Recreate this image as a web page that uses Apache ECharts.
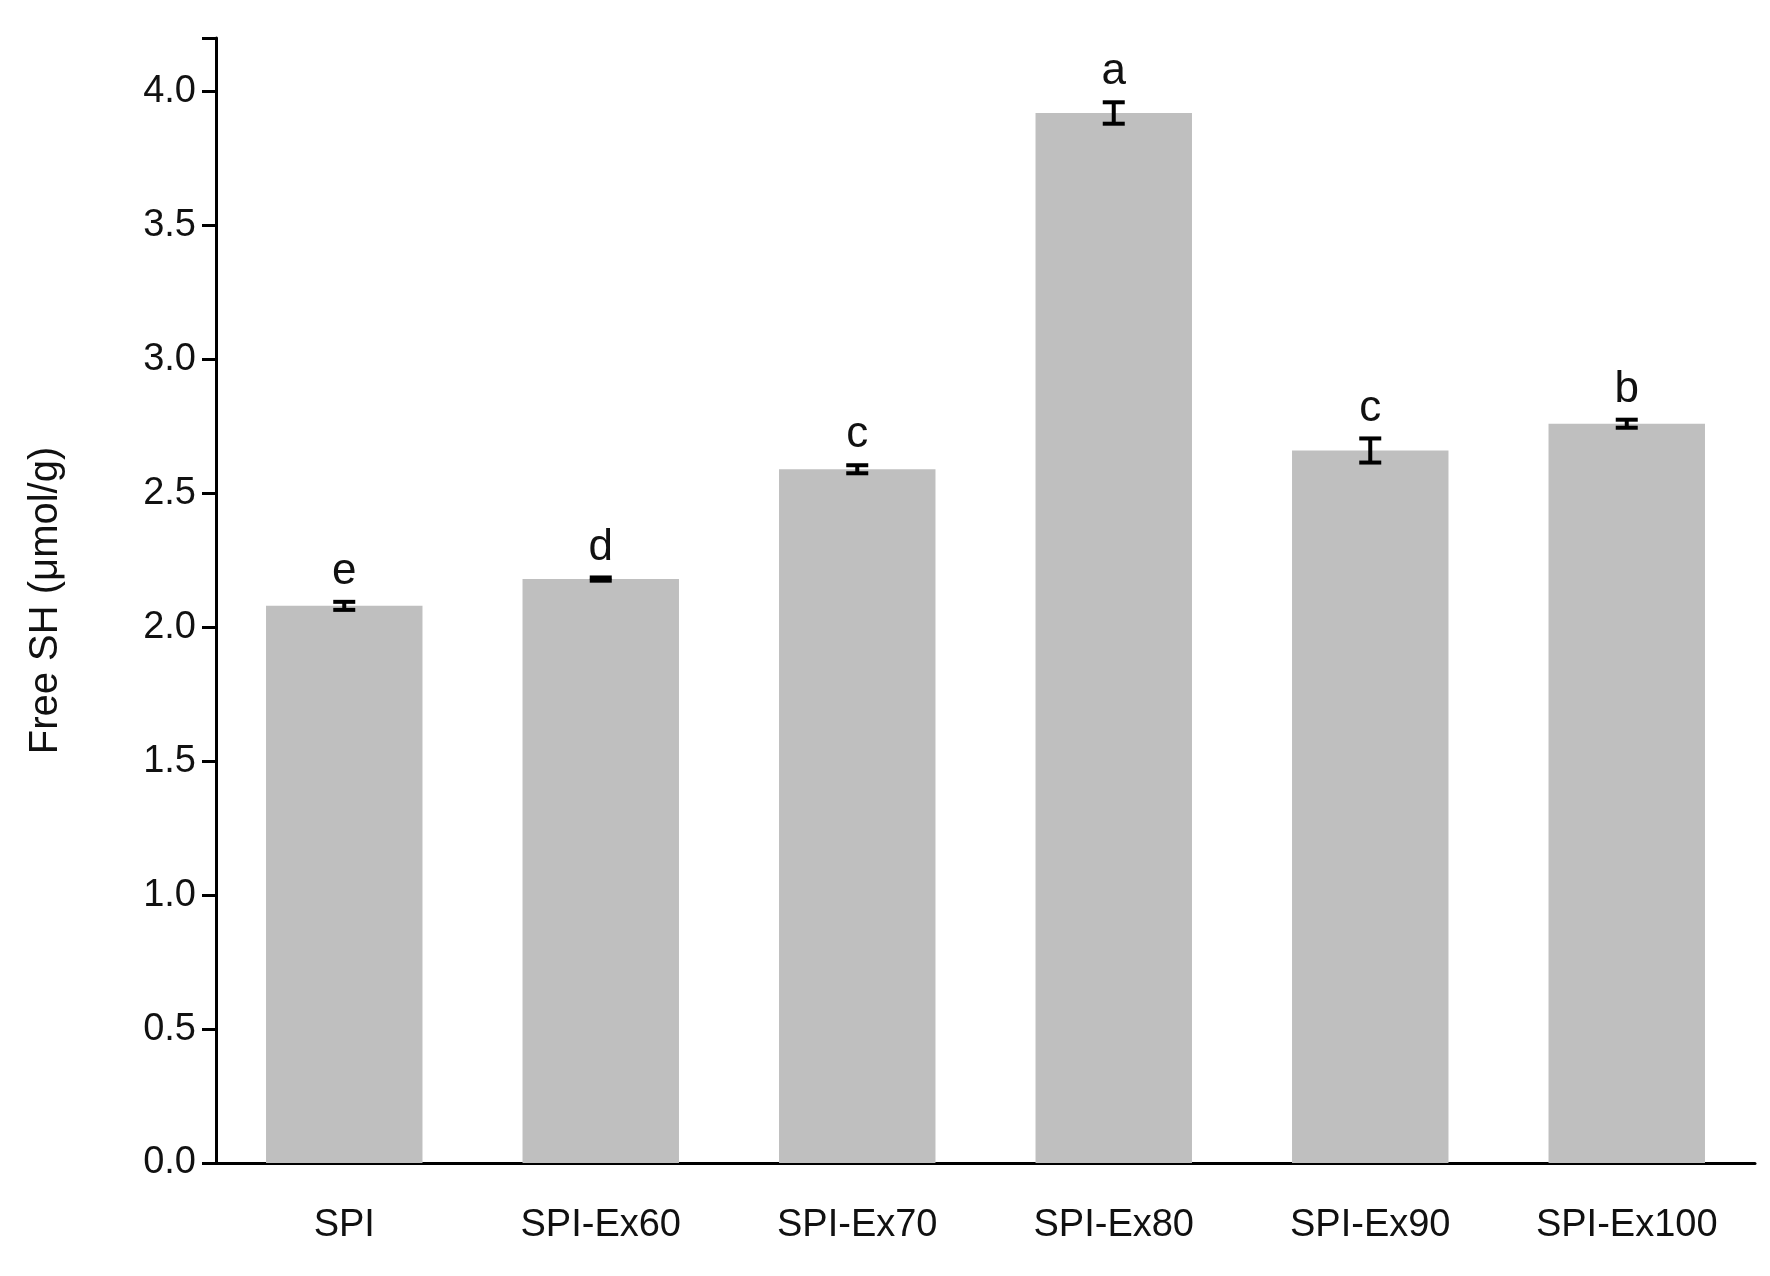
<!DOCTYPE html>
<html><head><meta charset="utf-8">
<script src="https://cdn.jsdelivr.net/npm/echarts@6/dist/echarts.min.js"></script>
<style>html,body{margin:0;background:#fff}#c{width:1770px;height:1276px}</style>
</head><body><div id="c"></div>
<script>
var categories = ['SPI', 'SPI-Ex60', 'SPI-Ex70', 'SPI-Ex80', 'SPI-Ex90', 'SPI-Ex100'];
var values = [2.08, 2.18, 2.59, 3.92, 2.66, 2.76];
var errors = [0.015, 0.006, 0.015, 0.04, 0.045, 0.015];
var letters = ['e', 'd', 'c', 'a', 'c', 'b'];
var yTicks = [0, 0.5, 1, 1.5, 2, 2.5, 3, 3.5, 4];

var font = 'Liberation Sans, Arial, sans-serif';
var chart = echarts.init(document.getElementById('c'));
chart.setOption({
    animation: false,
    grid: { left: 216, right: 15, top: 38, bottom: 113 },
    xAxis: {
        type: 'category',
        data: categories,
        axisLine: { lineStyle: { color: '#000', width: 3 } },
        axisTick: { alignWithLabel: true, inside: true, length: 14, lineStyle: { color: '#000', width: 3 } },
        axisLabel: { color: '#111', fontSize: 38, fontFamily: font, margin: 44 }
    },
    yAxis: {
        type: 'value',
        min: 0, max: 4.2, interval: 0.5,
        name: 'Free SH (μmol/g)',
        nameLocation: 'middle',
        nameGap: 150,
        nameTextStyle: { color: '#111', fontSize: 40, fontFamily: font },
        splitLine: { show: false },
        axisLine: { show: true, lineStyle: { color: '#000', width: 3 } },
        axisTick: { show: true, length: 14, lineStyle: { color: '#000', width: 3 } },
        axisLabel: {
            color: '#111', fontSize: 38, fontFamily: font, margin: 20,
            formatter: function (v) { return yTicks.indexOf(v) >= 0 ? v.toFixed(1) : ''; }
        }
    },
    series: [{
        type: 'bar',
        data: values,
        barWidth: '61%',
        itemStyle: { color: '#bfbfbf' }
    }, {
        type: 'custom',
        data: values.map(function (v, i) { return [i, v, errors[i], letters[i]]; }),
        renderItem: function (params, api) {
            var i = api.value(0), v = api.value(1), e = api.value(2);
            var top = api.coord([i, v + e]), bot = api.coord([i, v - e]);
            var x = top[0], w = 11;
            var st = { stroke: '#000', lineWidth: 4 };
            return {
                type: 'group',
                children: [
                    { type: 'line', shape: { x1: x, y1: top[1], x2: x, y2: bot[1] }, style: st },
                    { type: 'line', shape: { x1: x - w, y1: top[1], x2: x + w, y2: top[1] }, style: st },
                    { type: 'line', shape: { x1: x - w, y1: bot[1], x2: x + w, y2: bot[1] }, style: st },
                    { type: 'text', style: { text: letters[params.dataIndex], x: x, y: top[1] - 8,
                        align: 'center', verticalAlign: 'bottom', fontSize: 44, fontFamily: font, fill: '#111' } }
                ]
            };
        },
        z: 5
    }]
});
</script></body></html>
